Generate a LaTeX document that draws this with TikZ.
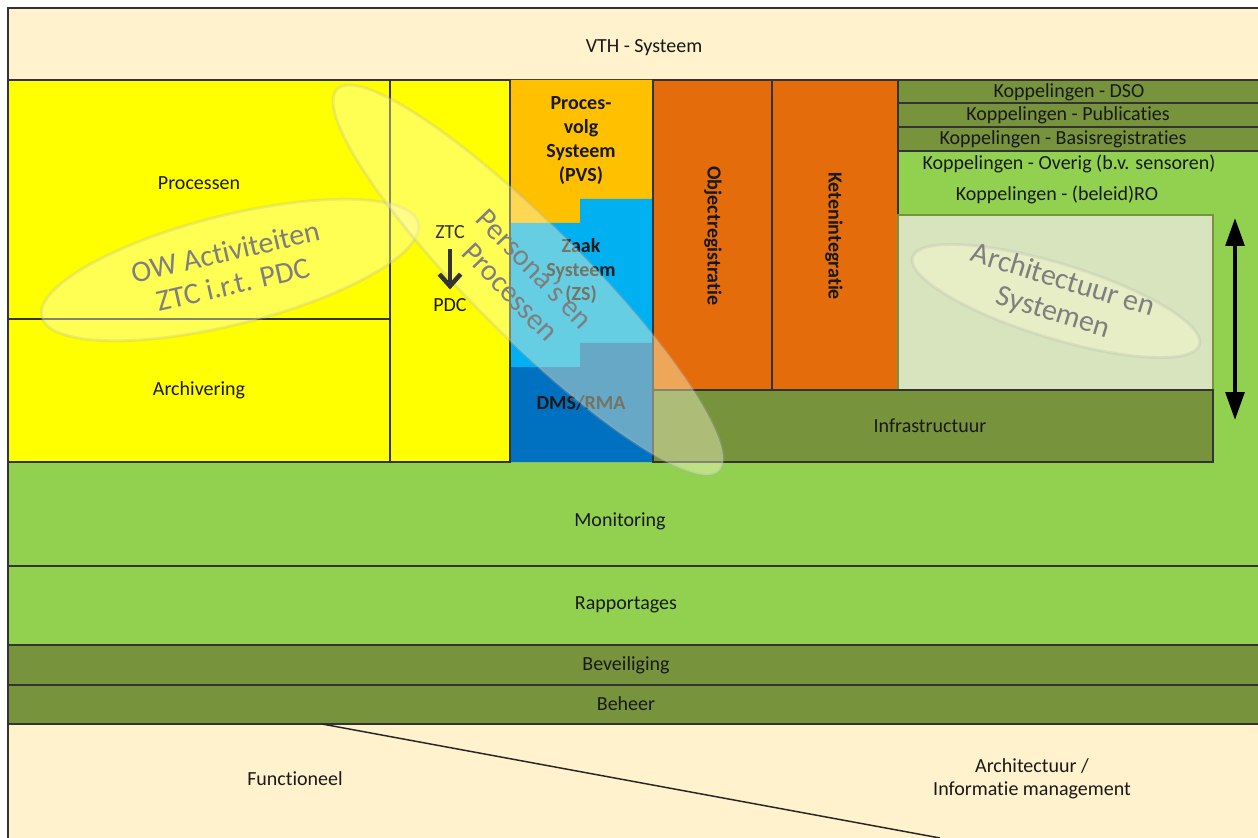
\documentclass[tikz,border=0pt]{standalone}
\usepackage{fontspec}
\setmainfont{Carlito}[RawFeature=-liga, RawFeature=-clig, RawFeature=-dlig, RawFeature=-calt]
\usetikzlibrary{arrows.meta,shapes.geometric}

\definecolor{cream}{RGB}{255,242,204}
\definecolor{procyel}{RGB}{255,255,0}
\definecolor{pvsorange}{RGB}{255,192,0}
\definecolor{zsblue}{RGB}{0,176,240}
\definecolor{dmsblue}{RGB}{0,112,192}
\definecolor{regorange}{RGB}{228,108,10}
\definecolor{olive}{RGB}{119,147,60}
\definecolor{lgreen}{RGB}{146,208,80}
\definecolor{pale}{RGB}{215,228,189}
\definecolor{bubblegray}{RGB}{127,127,127}

\tikzset{every picture/.style={line width=0.75pt}}
\tikzset{
  layer/.style={draw=black!80, line width=1.1pt},
  lbl/.style={font=\fontsize{15}{18}\selectfont, text=black!90, align=center},
  blbl/.style={lbl, font=\fontsize{15}{18}\selectfont\bfseries},
  bubble/.style={ellipse, draw=black!30, draw opacity=0.25, line width=2.2pt, fill=yellow!18!white, fill opacity=0.4, inner sep=0pt},
  bubbletxt/.style={font=\fontsize{22.5}{25}\selectfont, text=bubblegray, align=center},
}

\begin{document}
\begin{tikzpicture}[x=0.75pt,y=0.75pt,yscale=-1,xscale=1]
		\useasboundingbox (0,0) rectangle (1258,838);
		
		%Shape: Rectangle [VTH band]
		\draw [layer, fill=cream] (8,8) rectangle (1262,80);
		%Shape: green background right side + monitoring
		\fill [lgreen] (8,151) rectangle (1262,566);
		
		%Shape: Rectangle [processen / archivering / ztc column]
		\draw [layer, fill=procyel] (8,80) rectangle (390,319);
		\draw [layer, fill=procyel] (8,319) rectangle (390,462);
		\draw [layer, fill=procyel] (390,80) rectangle (510,462);
		
		%Shape: stepped system blocks
		\fill [pvsorange] (510,80) -- (653,80) -- (653,199) -- (580,199) -- (580,223) -- (510,223) -- cycle;
		\fill [zsblue] (510,223) -- (580,223) -- (580,199) -- (653,199) -- (653,343) -- (580,343) -- (580,367) -- (510,367) -- cycle;
		\fill [dmsblue] (510,367) -- (580,367) -- (580,343) -- (653,343) -- (653,462) -- (510,462) -- cycle;
		\draw [layer] (510,80) -- (510,462) ;
		
		%Shape: Rectangle [registratie columns]
		\draw [layer, fill=regorange] (653,80) rectangle (772,390);
		\draw [layer, fill=regorange] (772,80) rectangle (898,390);
		
		%Shape: Rectangle [koppelingen bands]
		\draw [layer, fill=olive] (898,80) rectangle (1262,103);
		\draw [layer, fill=olive] (898,103) rectangle (1262,127);
		\draw [layer, fill=olive] (898,127) rectangle (1262,151);
		
		%Shape: Rectangle [architectuur box / infrastructuur]
		\draw [draw=olive, line width=1.1pt, fill=pale] (898,215) rectangle (1213,390);
		\draw [layer, fill=olive] (653,390) rectangle (1213,462);
		
		%Shape: Rectangle [bottom layers]
		\draw [layer] (8,462) -- (8,566) -- (1262,566) ;
		\draw [layer, fill=lgreen] (8,566) rectangle (1262,645);
		\draw [layer, fill=olive] (8,645) rectangle (1262,685);
		\draw [layer, fill=olive] (8,685) rectangle (1262,724);
		\draw [layer, fill=cream] (8,724) rectangle (1262,842);
		
		%Straight Lines [split functioneel / architectuur]
		\coordinate (splitA) at (322,724);
		\coordinate (splitB) at (940,838);
		\draw [line width=1.1pt, black!85] (splitA) -- (splitB) ;
		
		% Text Node
		\draw (644,48) node [lbl] (vth) {VTH - Systeem};
		% Text Node
		\draw (199,183) node [lbl] (proc) {Processen};
		% Text Node
		\draw (199,390) node [lbl] (arch) {Archivering};
		% Text Node
		\draw (581,141) node [blbl] (pvs) {Proces-\\volg\\Systeem\\(PVS)};
		% Text Node
		\draw (581,271) node [blbl] (zs) {Zaak\\Systeem\\(ZS)};
		% Text Node
		\draw (581,403) node [blbl] (dms) {DMS/RMA};
		% Text Node
		\draw (713,236) node [blbl, rotate=-90] (objreg) {Objectregistratie};
		% Text Node
		\draw (834,236) node [blbl, rotate=-90] (keten) {Ketenintegratie};
		% Text Node
		\draw (1069,92) node [lbl] (kdso) {Koppelingen - DSO};
		% Text Node
		\draw (1068,115) node [lbl] (kpub) {Koppelingen - Publicaties};
		% Text Node
		\draw (1063,139) node [lbl] (kbasis) {Koppelingen - Basisregistraties};
		% Text Node
		\draw (1069,164) node [lbl] (koverig) {Koppelingen - Overig (b.v. sensoren)};
		% Text Node
		\draw (1057,195) node [lbl] (kro) {Koppelingen - (beleid)RO};
		% Text Node
		\draw (930,426) node [lbl] (infra) {Infrastructuur};
		% Text Node
		\draw (620,521) node [lbl] (mon) {Monitoring};
		% Text Node
		\draw (626,605) node [lbl] (rap) {Rapportages};
		% Text Node
		\draw (626,665) node [lbl] (bev) {Beveiliging};
		% Text Node
		\draw (626,704) node [lbl] (beh) {Beheer};
		% Text Node
		\draw (295,779) node [lbl] (func) {Functioneel};
		% Text Node
		\draw (1032,779) node [lbl, font=\fontsize{15}{17.5}\selectfont] (archim) {Architectuur /\\Informatie management};
		
		%Double arrow
		\coordinate (spanTop) at (1235,218);
		\coordinate (spanBot) at (1235,420);
		\draw [{Triangle[length=21pt,width=14pt]}-{Triangle[length=21pt,width=14pt]}, line width=3pt] (spanTop) -- (spanBot) ;
		
		%Shape: Ellipse overlays
		\node [bubble, minimum width=291pt, minimum height=82pt, rotate=14] (owell) at (230,270) {};
		\node [bubble, minimum width=405pt, minimum height=84pt, rotate=-45] (perell) at (528,280) {};
		\node [bubble, minimum width=225pt, minimum height=56pt, rotate=-17] (archell) at (1056,301) {};
		
		% Text Node
		\draw (450,232) node [lbl, text=black!80] (ztc) {ZTC};
		% Text Node
		\draw (450,305) node [lbl] (pdc) {PDC};
		\draw [-{Straight Barb[length=9pt,width=16pt]}, line width=3.4pt, black!80, shorten <=4pt, shorten >=3pt] (ztc) -- (pdc) ;
		
		% Text Node
		\draw (229,268) node [bubbletxt, rotate=13] (owtxt) {OW Activiteiten\\ZTC i.r.t. PDC};
		% Text Node
		\draw (523,280) node [bubbletxt, rotate=-46] (pertxt) {Persona's en\\Processen};
		% Text Node
		\draw (1058,297) node [bubbletxt, rotate=-17] (archtxt) {Architectuur en\\Systemen};
		
\end{tikzpicture}
\end{document}
